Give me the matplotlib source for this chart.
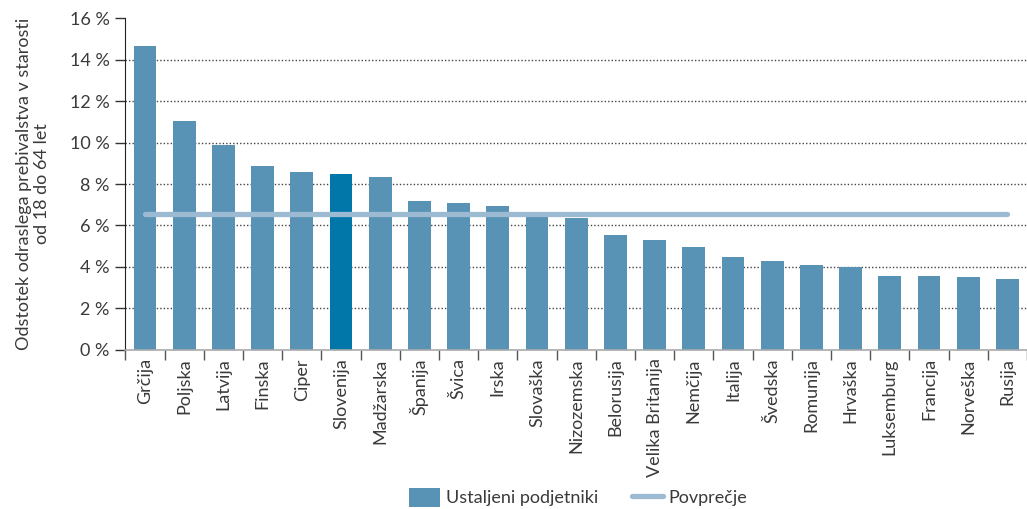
import numpy as np
import matplotlib.pyplot as plt

drzave = ["Grčija", "Poljska", "Latvija", "Finska", "Ciper", "Slovenija",
          "Madžarska", "Španija", "Švica", "Irska", "Slovaška", "Nizozemska",
          "Belorusija", "Velika Britanija", "Nemčija", "Italija", "Švedska",
          "Romunija", "Hrvaška", "Luksemburg", "Francija", "Norveška", "Rusija"]
ustaljeni = [14.66, 11.05, 9.89, 8.88, 8.59, 8.49, 8.35, 7.19, 7.09, 6.95,
             6.6, 6.37, 5.55, 5.31, 4.97, 4.49, 4.29, 4.10, 4.00, 3.57, 3.57,
             3.52, 3.42]
povprecje = 6.56
y_ticks = [0, 2, 4, 6, 8, 10, 12, 14, 16]

plt.rcParams['font.family'] = ['Lato', 'DejaVu Sans']
plt.rcParams['font.weight'] = 'normal'
barva_teksta = '#3a3a3a'

fig = plt.figure(figsize=(10.27, 5.09), dpi=100)
ax = fig.add_axes([0.1217, 0.3124, 0.8783, 0.6522])

x = np.arange(len(drzave))
barve = ['#0077a8' if d == "Slovenija" else '#5892b5' for d in drzave]
stolpci = ax.bar(x, ustaljeni, width=0.58, color=barve, zorder=2)
crta, = ax.plot([x[0], x[-1]], [povprecje, povprecje], color='#9dbad3', lw=3.8,
                solid_capstyle='round', zorder=3)

ax.set_xlim(-0.51, 22.42)
ax.set_ylim(0, 16)
ax.set_yticks(y_ticks)
ax.set_yticklabels([f"{v} %" for v in y_ticks], fontsize=13, color=barva_teksta)
for v in y_ticks[1:-1]:
    ax.axhline(v, color='#444444', lw=1.0, ls=(0, (1, 1.5)), zorder=1)

ax.set_xticks(x)
ax.set_xticklabels(drzave, rotation=90, fontsize=13, color=barva_teksta)
ax.set_xticks(np.arange(len(drzave) + 1) - 0.5, minor=True)
ax.tick_params(axis='x', which='major', length=0, pad=6)
ax.tick_params(axis='x', which='minor', length=7, color='#555555', width=1)
ax.tick_params(axis='y', length=7, width=1, color='#333333', pad=4)

for s in ['top', 'right']:
    ax.spines[s].set_visible(False)
ax.spines['left'].set_color('#222222')
ax.spines['bottom'].set_color('#aaaaaa')
ax.spines['bottom'].set_linewidth(1.2)

ax.set_ylabel("Odstotek odraslega prebivalstva v starosti\nod 18 do 64 let",
              fontsize=13, color=barva_teksta, labelpad=14)

fig.legend([stolpci.patches[0], crta], ["Ustaljeni podjetniki", "Povprečje"],
           loc='center', bbox_to_anchor=(0.563, 0.023), ncol=2, frameon=False,
           fontsize=13, handlelength=1.7, handleheight=1.2, columnspacing=1.9,
           handletextpad=0.3, labelcolor=barva_teksta)

fig.savefig("out.png", dpi=100)
